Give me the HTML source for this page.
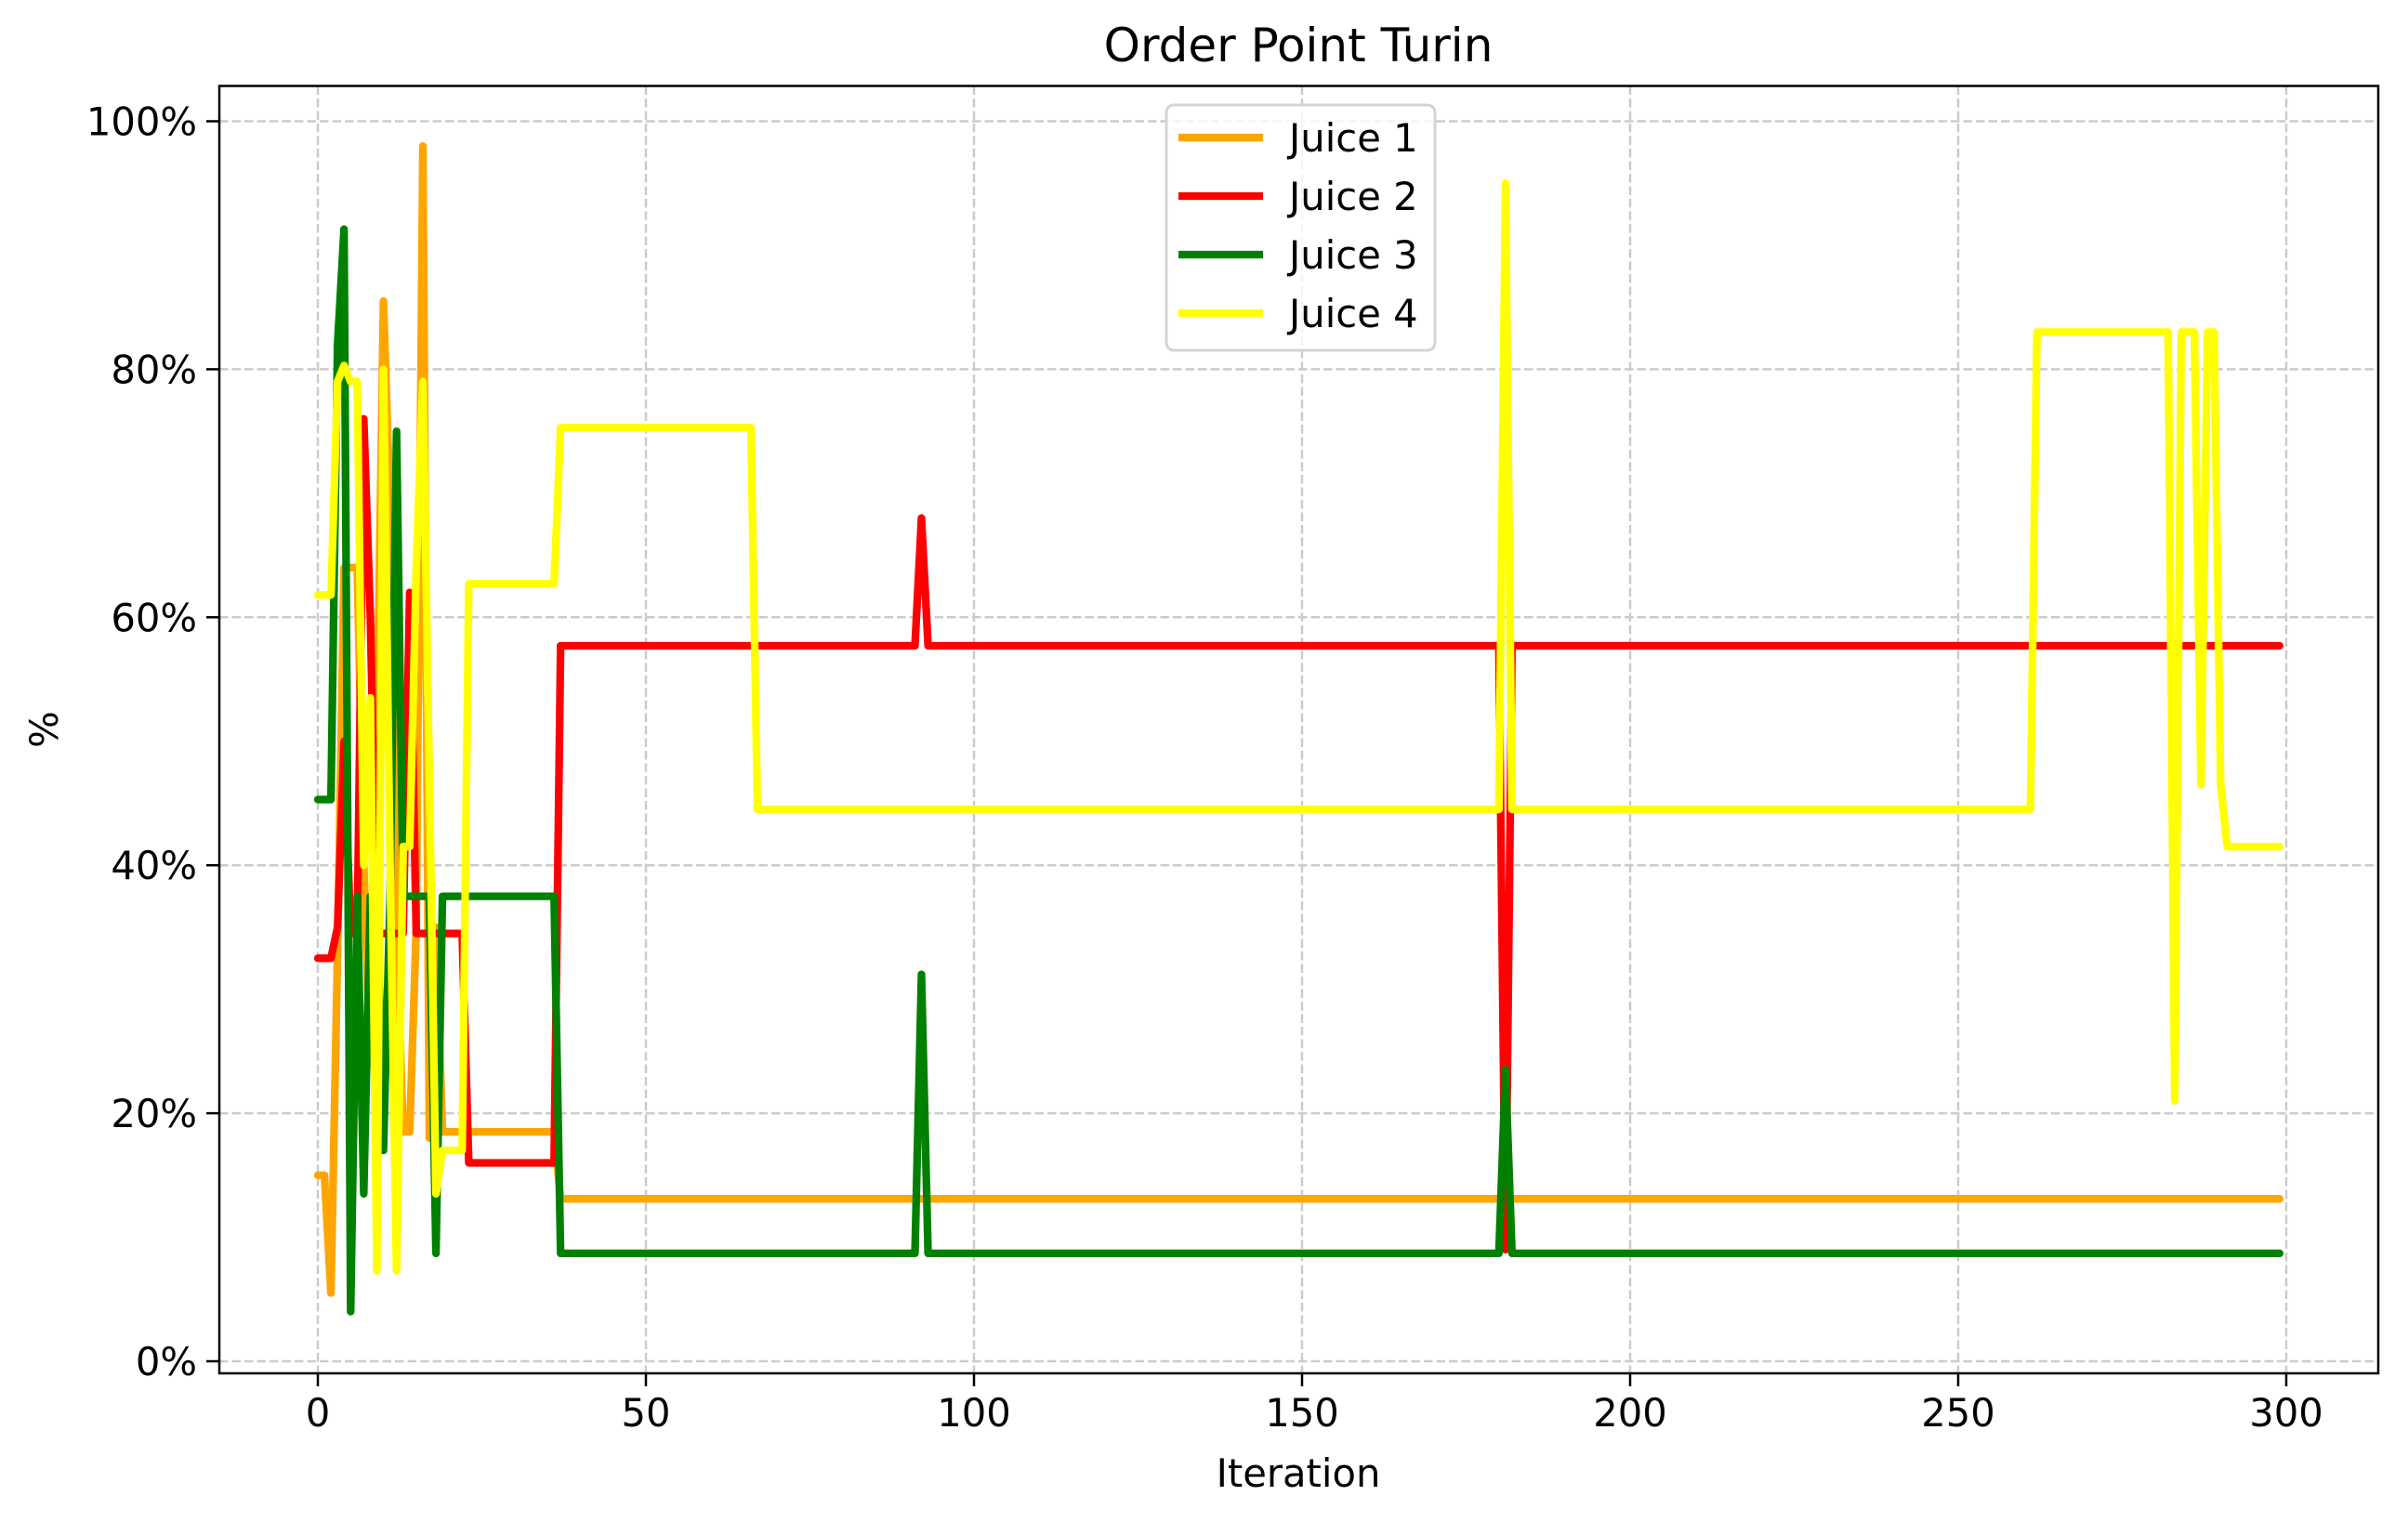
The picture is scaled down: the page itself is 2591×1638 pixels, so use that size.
<!DOCTYPE html>
<html><head><meta charset="utf-8"><style>
html,body{margin:0;padding:0;background:#fff;}
svg{display:block;font-family:"DejaVu Sans","Liberation Sans",sans-serif;}
</style></head><body>
<svg id="chart" width="2591" height="1638" viewBox="0 0 2591 1638" xmlns="http://www.w3.org/2000/svg">
<rect width="2591" height="1638" fill="#fff"/>
<g id="grid"></g>
<g id="series"></g>
<rect x="236" y="92.5" width="2323" height="1385.5" fill="none" stroke="#000" stroke-width="2.5"/>
<g id="ticks"></g>
<text x="1397" y="66" font-size="50" text-anchor="middle">Order Point Turin</text>
<text x="1397" y="1600" font-size="41.7" text-anchor="middle">Iteration</text>
<text x="0" y="0" font-size="41.7" text-anchor="middle" transform="translate(62,785) rotate(-90)">%</text>
<g id="legend">
<rect x="1255" y="113" width="289" height="264" rx="8" fill="#fff" fill-opacity="0.8" stroke="#d4d4d4" stroke-width="3"/>
</g>
</svg>
<script>
const iterMax = 299;
const xTicks = [0,50,100,150,200,250,300];
const yTicks = [0,20,40,60,80,100];
const seriesNames = ["Juice 1","Juice 2","Juice 3","Juice 4"];
const seriesColors = ["#ffa500","#ff0000","#008000","#ffff00"];
const juice1Early = [15,15,5.5,33,64,64,64,40,24,50,85.5,69,35,18.5,18.5,35,98,18,35,18.5,18.5,18.5,18.5];
const juice2Early = [32.5,32.5,32.5,35,50,34.5,34.5,76,60,34.5,34.5,34.5,34.5,34.5,62,34.5,34.5,34.5,34.5,34.5,34.5,34.5,34.5];
const juice3Early = [45.3,45.3,45.3,82,91.3,4,37.5,13.5,37.5,37.5,17,37.5,75,37.5,37.5,37.5,37.5,37.5,8.7,37.5,37.5,37.5,37.5];
const juice4Early = [61.8,61.8,61.8,79,80.3,79,79,40,53.5,7.3,80,40,7.3,41.5,41.5,64,79,47,13.5,17,17,17,17];
// segments: [fromIter, toIter, value]
const juice1Segs = [[23,36,18.5],[37,299,13.1]];
const juice2Segs = [[23,36,16],[37,91,57.7],[92,92,68],[93,180,57.7],[181,181,9],[182,299,57.7]];
const juice3Segs = [[23,36,37.5],[37,91,8.7],[92,92,31.2],[93,180,8.7],[181,181,23.5],[182,299,8.7]];
const juice4Segs = [[23,36,62.7],[37,66,75.3],[67,180,44.5],[181,181,95],[182,261,44.5],[262,282,83],[283,283,21],[284,286,83],[287,287,46.5],[288,289,83],[290,290,46.5],[291,299,41.5]];

function build(early, segs){const a=early.slice();for(const s of segs){for(let i=s[0];i<=s[1];i++)a[i]=s[2];}return a;}
const allSeries=[build(juice1Early,juice1Segs),build(juice2Early,juice2Segs),build(juice3Early,juice3Segs),build(juice4Early,juice4Segs)];

const NS="http://www.w3.org/2000/svg";
const X=v=>342+v*(2460-342)/300;
const Y=v=>1465-v*(1465-130.5)/100;
function mk(tag,attrs,parent){const e=document.createElementNS(NS,tag);for(const k in attrs)e.setAttribute(k,attrs[k]);parent.appendChild(e);return e;}
const grid=document.getElementById('grid'),ticks=document.getElementById('ticks'),ser=document.getElementById('series'),leg=document.getElementById('legend');

xTicks.forEach(t=>{
 const g=mk('line',{x1:X(t),x2:X(t),y1:92.5,y2:1478,stroke:'#cccccc','stroke-width':2.5,'stroke-dasharray':'9.5,4'},grid);
 
 
 const tk=mk('line',{x1:X(t),x2:X(t),y1:1478,y2:1492,stroke:'#000','stroke-width':2.5},ticks);
 
 
 const tx=mk('text',{x:X(t),y:1535,'font-size':41.7,'text-anchor':'middle'},ticks);
 tx.textContent=t;
 
 
});
yTicks.forEach(t=>{
 const g=mk('line',{x1:236,x2:2559,y1:Y(t),y2:Y(t),stroke:'#cccccc','stroke-width':2.5,'stroke-dasharray':'9.5,4'},grid);
 
 
 const tk=mk('line',{x1:222,x2:236,y1:Y(t),y2:Y(t),stroke:'#000','stroke-width':2.5},ticks);
 
 
 const tx=mk('text',{x:212,y:Y(t)+15,'font-size':41.7,'text-anchor':'end'},ticks);
 tx.textContent=t+'%';
 
 
});
allSeries.forEach((arr,si)=>{
 const d=arr.map((v,i)=>(i?'L':'M')+X(i).toFixed(1)+','+Y(v).toFixed(1)).join('');
 const p=mk('path',{d:d,fill:'none',stroke:seriesColors[si],'stroke-width':8.3,'stroke-linejoin':'round','stroke-linecap':'round'},ser);
 
 
 const y=148+si*63;
 const ll=mk('line',{x1:1268,x2:1359,y1:y,y2:y,stroke:seriesColors[si],'stroke-width':8.3},leg);
 
 
 const lt=mk('text',{x:1387,y:y+15,'font-size':41.7},leg);
 lt.textContent=seriesNames[si];
 
 
});
</script>
</body></html>
